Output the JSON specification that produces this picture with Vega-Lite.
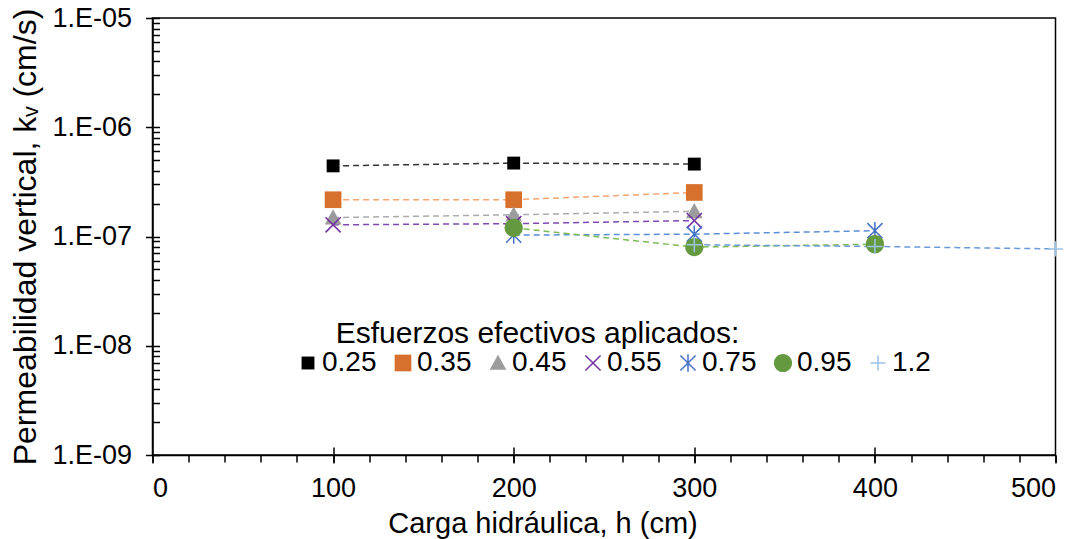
{
  "$schema": "https://vega.github.io/schema/vega-lite/v6.json",
  "width": 903,
  "height": 437,
  "autosize": {"type": "none"},
  "padding": {"left": 152.5, "top": 18, "right": 30.5, "bottom": 84},
  "background": "white",
  "config": {
    "font": "Liberation Sans",
    "view": {"stroke": "black", "strokeWidth": 1.5},
    "axis": {
      "grid": false,
      "domainColor": "black",
      "domainWidth": 1.5,
      "tickColor": "black",
      "tickWidth": 1.5,
      "labelColor": "black",
      "titleColor": "black",
      "labelFont": "Liberation Sans",
      "titleFont": "Liberation Sans",
      "labelFontSize": 27,
      "titleFontSize": 29,
      "titleFontWeight": "normal"
    },
    "legend": {
      "titleFont": "Liberation Sans",
      "labelFont": "Liberation Sans",
      "titleFontWeight": "normal",
      "titleColor": "black",
      "labelColor": "black",
      "titleLimit": 900,
      "labelLimit": 200
    }
  },
  "data": {
    "values": [
      {"h": 100, "k": 4.43e-7, "s": "0.25"},
      {"h": 200, "k": 4.70e-7, "s": "0.25"},
      {"h": 300, "k": 4.60e-7, "s": "0.25"},
      {"h": 100, "k": 2.17e-7, "s": "0.35"},
      {"h": 200, "k": 2.17e-7, "s": "0.35"},
      {"h": 300, "k": 2.53e-7, "s": "0.35"},
      {"h": 100, "k": 1.49e-7, "s": "0.45"},
      {"h": 200, "k": 1.58e-7, "s": "0.45"},
      {"h": 300, "k": 1.70e-7, "s": "0.45"},
      {"h": 100, "k": 1.28e-7, "s": "0.55"},
      {"h": 200, "k": 1.31e-7, "s": "0.55"},
      {"h": 300, "k": 1.40e-7, "s": "0.55"},
      {"h": 200, "k": 1.03e-7, "s": "0.75"},
      {"h": 300, "k": 1.05e-7, "s": "0.75"},
      {"h": 400, "k": 1.13e-7, "s": "0.75"},
      {"h": 200, "k": 1.20e-7, "s": "0.95"},
      {"h": 300, "k": 8.0e-8, "s": "0.95"},
      {"h": 400, "k": 8.5e-8, "s": "0.95"},
      {"h": 300, "k": 8.4e-8, "s": "1.2"},
      {"h": 400, "k": 8.1e-8, "s": "1.2"},
      {"h": 500, "k": 7.7e-8, "s": "1.2"}
    ]
  },
  "layer": [
    {
      "mark": {"type": "line", "strokeDash": [6, 4], "strokeWidth": 1.5, "clip": false},
      "encoding": {
        "x": {
          "field": "h", "type": "quantitative",
          "scale": {"domain": [0, 500], "nice": false},
          "axis": {"orient": "bottom", "values": [0,20,40,60,80,100,120,140,160,180,200,220,240,260,280,300,320,340,360,380,400,420,440,460,480,500], "labels": false, "domain": false, "tickSize": 7, "title": null}
        },
        "y": {
          "field": "k", "type": "quantitative",
          "scale": {"type": "log", "domain": [1e-9, 1e-5], "nice": false},
          "axis": {"orient": "right", "offset": -903, "values": [1e-9,2e-9,3e-9,4e-9,5e-9,6e-9,7e-9,8e-9,9e-9,1e-8,2e-8,3e-8,4e-8,5e-8,6e-8,7e-8,8e-8,9e-8,1e-7,2e-7,3e-7,4e-7,5e-7,6e-7,7e-7,8e-7,9e-7,1e-6,2e-6,3e-6,4e-6,5e-6,6e-6,7e-6,8e-6,9e-6,1e-5], "labels": false, "domain": false, "tickSize": 7, "title": null}
        },
        "stroke": {
          "field": "s", "type": "nominal",
          "scale": {"domain": ["0.25","0.35","0.45","0.55","0.75","0.95","1.2"], "range": ["#333333","#F4A46E","#ABABAB","#7E48B0","#5B8FD6","#7DBB55","#6A9BD8"]},
          "legend": null
        }
      }
    },
    {
      "mark": {"type": "point", "filled": true, "opacity": 1, "strokeWidth": 0, "size": 230, "clip": false},
      "encoding": {
        "x": {
          "field": "h", "type": "quantitative",
          "axis": {"orient": "bottom", "values": [0,100,200,300,400,500], "tickSize": 8, "labelPadding": 12, "title": "Carga hidráulica, h (cm)", "titleX": 390, "titleY": 77, "titleBaseline": "alphabetic", "titleAlign": "center", "titleAnchor": null}
        },
        "y": {
          "field": "k", "type": "quantitative",
          "axis": {"orient": "left", "values": [1e-9,1e-8,1e-7,1e-6,1e-5], "tickSize": 7, "labelPadding": 14, "labelExpr": "'1.E-0' + format(-log(datum.value)/LN10, '.0f')", "title": "Permeabilidad vertical, kᵥ (cm/s)", "titleFontSize": 32, "titleX": -127, "titleY": 218.5, "titleBaseline": "middle", "titleAlign": "center", "titleAngle": -90}
        },
        "fill": {
          "field": "s", "type": "nominal",
          "scale": {"domain": ["0.25","0.35","0.45","0.55","0.75","0.95","1.2"], "range": ["#000000","#D6702C","#9C9C9C","#7030A0","#4472C4","#64993F","#9DC3E6"]},
          "legend": {"orient": "none", "legendX": 141.5, "legendY": 301, "direction": "horizontal", "columns": 7, "title": "\u200b\u00a0\u00a0\u00a0\u00a0\u00a0Esfuerzos efectivos aplicados:", "titleFontSize": 30, "labelFontSize": 28, "labelOffset": 0, "columnPadding": 12, "titlePadding": 0, "symbolStrokeWidth": 0, "symbolSize": 230}
        },
        "shape": {
          "field": "s", "type": "nominal",
          "scale": {"domain": ["0.25","0.35","0.45","0.55","0.75","0.95","1.2"], "range": [
            "M-0.85,-0.85L0.85,-0.85L0.85,0.85L-0.85,0.85Z",
            "M-1.1,-1.1L1.1,-1.1L1.1,1.1L-1.1,1.1Z",
            "M0,-1.1L1.1,0.9L-1.1,0.9Z",
            "M-0.93,-1.07L1.07,0.93L0.93,1.07L-1.07,-0.93ZM-1.07,0.93L0.93,-1.07L1.07,-0.93L-0.93,1.07Z",
            "M-0.93,-1.07L1.07,0.93L0.93,1.07L-1.07,-0.93ZM-1.07,0.93L0.93,-1.07L1.07,-0.93L-0.93,1.07ZM-0.1,-1.15L0.1,-1.15L0.1,1.15L-0.1,1.15Z",
            "M1.2,0A1.2,1.2,0,1,1,-1.2,0A1.2,1.2,0,1,1,1.2,0Z",
            "M-0.1,-1L0.1,-1L0.1,-0.1L1,-0.1L1,0.1L0.1,0.1L0.1,1L-0.1,1L-0.1,0.1L-1,0.1L-1,-0.1L-0.1,-0.1Z"
          ]},
          "legend": {"orient": "none", "legendX": 141.5, "legendY": 301, "direction": "horizontal", "columns": 7, "title": "\u200b\u00a0\u00a0\u00a0\u00a0\u00a0Esfuerzos efectivos aplicados:", "titleFontSize": 30, "labelFontSize": 28, "labelOffset": 0, "columnPadding": 12, "titlePadding": 0, "symbolStrokeWidth": 0, "symbolSize": 230}
        }
      }
    },
    {
      "mark": {"type": "point", "opacity": 0},
      "encoding": {
        "x": {
          "field": "h", "type": "quantitative",
          "axis": {"orient": "top", "offset": -437, "values": [100,200,300,400], "labels": false, "domain": false, "tickSize": 8, "title": null}
        },
        "y": {"field": "k", "type": "quantitative", "axis": null}
      }
    }
  ],
  "resolve": {"axis": {"x": "independent", "y": "independent"}, "scale": {"stroke": "independent"}}
}
